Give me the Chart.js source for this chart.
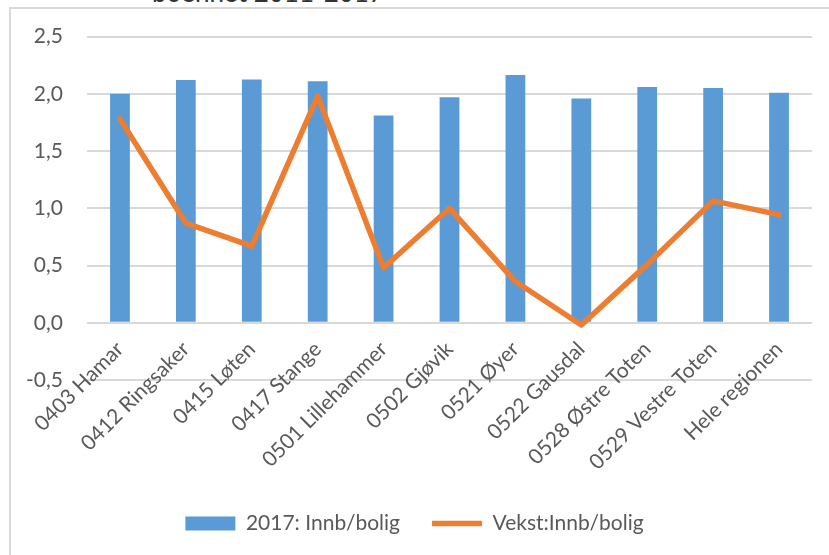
<!DOCTYPE html>
<html>
<head>
<meta charset="utf-8">
<script src="https://cdn.jsdelivr.net/npm/chart.js@4.4.1/dist/chart.umd.min.js"></script>
<style>
  html, body { margin: 0; padding: 0; background: #fff; overflow: hidden; width: 829px; height: 555px; }
  #frame { position: absolute; left: 9px; top: 7px; right: 0; bottom: 0; border-left: 2px solid #d9d9d9; border-top: 2px solid #d9d9d9; }
  #title { position: absolute; left: 152px; top: -24px; font-family: Lato, sans-serif; font-size: 26px; color: #333; white-space: nowrap; }
  #c { position: absolute; left: 0; top: 0; }
</style>
</head>
<body>
<div id="title">boenhet 2011-2017</div>
<div id="frame"></div>
<canvas id="c" width="829" height="590"></canvas>
<script>
// Kommuner
const categories = ["0403 Hamar", "0412 Ringsaker", "0415 Løten", "0417 Stange", "0501 Lillehammer",
  "0502 Gjøvik", "0521 Øyer", "0522 Gausdal", "0528 Østre Toten", "0529 Vestre Toten", "Hele regionen"];

// Innbyggere per bolig 2017
const innbBolig2017 = [2.00, 2.12, 2.125, 2.11, 1.81, 1.97, 2.165, 1.96, 2.06, 2.05, 2.01];

// Vekst: innbyggere per bolig
const vekstInnbBolig = [1.78, 0.87, 0.67, 1.98, 0.48, 1.00, 0.36, -0.02, 0.51, 1.065, 0.945];

// Y-akse
const yMin = -0.5, yMax = 2.5, yStep = 0.5;

const textColor = "#595959";
const fontFamily = "Lato, 'Liberation Sans', sans-serif";
const fontSize = 21;

new Chart(document.getElementById("c").getContext("2d"), {
  type: "bar",
  data: {
    labels: categories,
    datasets: [
      {
        type: "bar",
        label: "2017: Innb/bolig",
        data: innbBolig2017,
        backgroundColor: "#5b9bd5",
        barPercentage: 0.3,
        categoryPercentage: 1,
        pointStyle: "rect",
        order: 2,
      },
      {
        type: "line",
        label: "Vekst:Innb/bolig",
        data: vekstInnbBolig,
        borderColor: "#ed7d31",
        backgroundColor: "#ed7d31",
        borderWidth: 5.5,
        tension: 0,
        pointRadius: 0,
        pointStyle: "line",
        borderJoinStyle: "round",
        borderCapStyle: "round",
        order: 1,
      },
    ],
  },
  options: {
    responsive: false,
    animation: false,
    layout: { padding: { top: 36, right: 0, left: 0, bottom: 46 } },
    plugins: {
      tooltip: { enabled: false },
      legend: {
        position: "bottom",
        labels: {
          usePointStyle: true,
          pointStyleWidth: 50,
          boxHeight: 14,
          padding: 32,
          color: textColor,
          font: { family: fontFamily, size: fontSize },
          sort: (a, b) => a.datasetIndex - b.datasetIndex,
        },
      },
    },
    scales: {
      // kategoriakse ved 0-linjen, som i Excel
      x: {
        position: { y: 0 },
        grid: { display: false, drawTicks: false },
        border: { display: false },
        ticks: {
          autoSkip: false,
          minRotation: 45,
          maxRotation: 45,
          padding: 14,
          color: textColor,
          font: { family: fontFamily, size: fontSize },
        },
      },
      // tom akse som holder plass mellom plottet og forklaringen
      spacer: {
        type: "category",
        position: "bottom",
        grid: { display: false, drawTicks: false },
        border: { display: false },
        ticks: { display: false },
        afterFit: (scale) => { scale.height = 101; },
      },
      y: {
        min: yMin,
        max: yMax,
        grid: { color: "#d9d9d9", lineWidth: 2, drawTicks: false },
        border: { display: false },
        ticks: {
          stepSize: yStep,
          padding: 24,
          color: textColor,
          font: { family: fontFamily, size: fontSize },
          callback: (v) => v.toFixed(1).replace(".", ","),
        },
        afterFit: (scale) => { scale.width = 87; },
      },
      // tom akse til høyre, for marg
      right: {
        type: "linear",
        position: "right",
        grid: { display: false, drawTicks: false },
        border: { display: false },
        ticks: { display: false },
        afterFit: (scale) => { scale.width = 17; },
      },
    },
  },
});
</script>
</body>
</html>
